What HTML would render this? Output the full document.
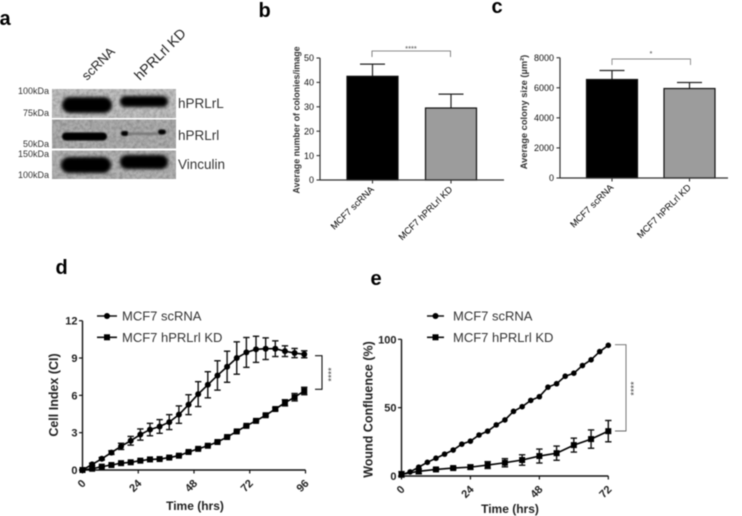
<!DOCTYPE html>
<html lang="en">
<head>
<meta charset="utf-8">
<title>hPRLrl knockdown figure</title>
<style>
html,body{margin:0;padding:0;background:#fff;}
body{width:742px;height:516px;overflow:hidden;}
svg{display:block;font-family:"Liberation Sans",sans-serif;filter:blur(0.45px);}
</style>
</head>
<body>
<svg id="figure" xmlns="http://www.w3.org/2000/svg" width="742" height="516" viewBox="0 0 742 516">
  <defs>
    <filter id="soft" x="-40%" y="-150%" width="180%" height="400%"><feGaussianBlur stdDeviation="1.5"/></filter>
    <filter id="softer" x="-40%" y="-150%" width="180%" height="400%"><feGaussianBlur stdDeviation="0.9"/></filter>
    <filter id="grain" x="0" y="0" width="100%" height="100%">
      <feTurbulence type="fractalNoise" baseFrequency="0.3" numOctaves="2" seed="4"/>
      <feColorMatrix type="matrix" values="0 0 0 0 0  0 0 0 0 0  0 0 0 0 0  0.4 0 0 0 -0.14"/>
    </filter>
  </defs>
  <rect width="742" height="516" fill="#fff"/>

  <g font-family="'Liberation Sans',sans-serif" font-weight="700" font-size="20" fill="#000">
    <text x="-0.500" y="25">a</text>
    <text x="258.500" y="17">b</text>
    <text x="491.500" y="13">c</text>
    <text x="55.500" y="274">d</text>
    <text x="370.500" y="285">e</text>
  </g>

  <g>
    <rect x="52" y="89" width="124" height="29" fill="#c0c0c0"/>
    <rect x="52" y="119.500" width="124" height="29" fill="#adadad"/>
    <rect x="52" y="150.500" width="124" height="28.500" fill="#b2b2b2"/>
    <rect x="52" y="89" width="124" height="29" filter="url(#grain)"/>
    <rect x="52" y="119.500" width="124" height="29" filter="url(#grain)"/>
    <rect x="52" y="150.500" width="124" height="28.500" filter="url(#grain)"/>
    <rect x="62" y="97" width="50" height="16" rx="8" fill="#040404" filter="url(#soft)"/>
    <rect x="120" y="96" width="48" height="11" rx="5.500" fill="#060606" filter="url(#soft)"/>
    <rect x="62" y="132.500" width="45" height="8" rx="4" fill="#050505" filter="url(#softer)"/>
    <rect x="121" y="131" width="7.500" height="5" rx="2.500" fill="#050505" filter="url(#softer)"/>
    <rect x="128" y="132.500" width="30" height="2.500" fill="#777" filter="url(#softer)"/>
    <rect x="158" y="129.500" width="8" height="5" rx="2.500" fill="#050505" filter="url(#softer)"/>
    <rect x="61" y="157" width="50" height="16" rx="8" fill="#040404" filter="url(#soft)"/>
    <rect x="120" y="155" width="48" height="14" rx="7" fill="#060606" filter="url(#soft)"/>
    <g font-size="9" fill="#333" text-anchor="end">
      <text x="49" y="94">100kDa</text>
      <text x="49" y="116">75kDa</text>
      <text x="49" y="147">50kDa</text>
      <text x="49" y="157">150kDa</text>
      <text x="49" y="178">100kDa</text>
    </g>
    <g font-size="13.500" fill="#333">
      <text x="178" y="108">hPRLrL</text>
      <text x="178" y="140">hPRLrl</text>
      <text x="178" y="169">Vinculin</text>
    </g>
    <text transform="translate(87 81) rotate(-45)" font-size="13" fill="#222">scRNA</text>
    <text transform="translate(140 81) rotate(-45)" font-size="14" fill="#222">hPRLrl KD</text>
  </g>

  <g id="chart-b">
    <text transform="translate(299.500 120) rotate(-90)" text-anchor="middle" font-size="8.900" font-weight="700" fill="#333">Average number of colonies/image</text>
    <text x="411" y="51" text-anchor="middle" font-size="7.500" fill="#444">****</text>
    <path d="M372 57V51H450.500V57" fill="none" stroke="#666" stroke-width="0.800"/>
  </g>

  <g id="chart-c">
    <text transform="translate(527 112) rotate(-90)" text-anchor="middle" font-size="9.300" font-weight="700" fill="#333">Average colony size (µm²)</text>
    <text x="651" y="56" text-anchor="middle" font-size="7.500" fill="#444">*</text>
    <path d="M612 65V59H690.500V65" fill="none" stroke="#888" stroke-width="0.900"/>
  </g>

  <g id="chart-d">
    <text transform="translate(58 395) rotate(-90)" text-anchor="middle" font-size="12.500" font-weight="700" fill="#222">Cell Index (CI)</text>
    <text x="195" y="510" text-anchor="middle" font-size="12" font-weight="700" fill="#222">Time (hrs)</text>
    <path d="M315 355.700H322V389.300H315" fill="none" stroke="#111" stroke-width="1.100"/>
    <text transform="translate(334.500 374.500) rotate(-90)" text-anchor="middle" font-size="9" fill="#444">****</text>
    <line x1="97" x2="117" y1="316" y2="316" stroke="#111" stroke-width="1.600"/>
    <circle cx="107" cy="316" r="3" fill="#000"/>
    <text x="122" y="320.500" font-size="13" fill="#333">MCF7 scRNA</text>
    <line x1="97" x2="117" y1="337.300" y2="337.300" stroke="#111" stroke-width="1.600"/>
    <rect x="104" y="334.300" width="6" height="6" fill="#000"/>
    <text x="122" y="342" font-size="13" fill="#333">MCF7 hPRLrl KD</text>
  </g>

  <g id="chart-e">
    <text transform="translate(372.500 409.500) rotate(-90)" text-anchor="middle" font-size="12.500" font-weight="700" fill="#222">Wound Confluence (%)</text>
    <text x="510" y="513" text-anchor="middle" font-size="12" font-weight="700" fill="#222">Time (hrs)</text>
    <path d="M615 344.700H626V431H615" fill="none" stroke="#666" stroke-width="0.900"/>
    <text transform="translate(637 388.500) rotate(-90)" text-anchor="middle" font-size="9" fill="#444">****</text>
    <line x1="427" x2="444" y1="316" y2="316" stroke="#111" stroke-width="1.600"/>
    <circle cx="435.500" cy="316" r="3" fill="#000"/>
    <text x="453" y="320.500" font-size="13" fill="#333">MCF7 scRNA</text>
    <line x1="427" x2="444" y1="337.300" y2="337.300" stroke="#111" stroke-width="1.600"/>
    <rect x="432.500" y="334.300" width="6" height="6" fill="#000"/>
    <text x="453" y="342" font-size="13" fill="#333">MCF7 hPRLrl KD</text>
  </g>
</svg>

<script>
const barCategories = ['MCF7 scRNA', 'MCF7 hPRLrl KD'];
const barColors = ['#000000', '#9c9c9c'];
const colonyMeans = [42.5, 29.5];
const colonyErrors = [5, 5.7];
const colonyTicks = [0, 10, 20, 30, 40, 50];
const sizeMeans = [6550, 5950];
const sizeErrors = [600, 400];
const sizeTicks = [0, 2000, 4000, 6000, 8000];

const growthTimes = [0, 4.15, 8.3, 12.45, 16.6, 20.75, 24.9, 29.05, 33.2, 37.35, 41.5, 45.65, 49.8, 53.95, 58.1, 62.25, 66.4, 70.55, 74.7, 78.85, 83, 87.15, 91.3, 95.45];
const growthScrna = [0, 0.45, 0.9, 1.4, 1.9, 2.35, 2.85, 3.25, 3.5, 3.85, 4.45, 5.25, 6.1, 6.85, 7.6, 8.3, 9, 9.45, 9.7, 9.75, 9.75, 9.55, 9.4, 9.3];
const growthScrnaErr = [0.05, 0.1, 0.1, 0.15, 0.25, 0.35, 0.45, 0.5, 0.55, 0.6, 0.7, 0.8, 1, 1.05, 1.18, 1.25, 1.3, 1.2, 1.05, 0.87, 0.63, 0.43, 0.37, 0.28];
const growthKd = [0, 0.1, 0.27, 0.4, 0.55, 0.62, 0.75, 0.85, 0.88, 1, 1.15, 1.45, 1.7, 1.95, 2.25, 2.65, 3.1, 3.55, 3.95, 4.4, 4.9, 5.4, 5.85, 6.35];
const growthKdErr = [0.02, 0.02, 0.03, 0.03, 0.03, 0.05, 0.05, 0.05, 0.05, 0.05, 0.05, 0.05, 0.05, 0.05, 0.05, 0.05, 0.05, 0.05, 0.05, 0.08, 0.1, 0.25, 0.3, 0.3];
const growthXTicks = [0, 24, 48, 72, 96];
const growthYTicks = [0, 3, 6, 9, 12];

const woundTimesScrna = [0, 3, 6, 9, 12, 15, 18, 21, 24, 27, 30, 33, 36, 39, 42, 45, 48, 51, 54, 57, 60, 63, 66, 69, 72];
const woundScrna = [1, 3, 6.5, 10, 13, 16, 19, 23.3, 25.5, 30, 32.8, 37.4, 41, 47.3, 50.7, 55.3, 58, 65, 67.5, 73, 75.2, 80.8, 85, 91, 95.6];
const woundTimesKd = [0, 6, 12, 18, 24, 30, 36, 42, 48, 54, 60, 66, 72];
const woundKd = [1.2, 3.4, 4.8, 5.8, 6.5, 8, 9.7, 11.7, 14.6, 16.7, 22.6, 27, 32.8];
const woundKdErr = [2, 1.8, 1, 1, 1.5, 2.5, 3, 3.8, 5.1, 5.2, 5.1, 6.7, 7.8];
const woundXTicks = [0, 24, 48, 72];
const woundYTicks = [0, 50, 100];

const SVG_NS = 'http://www.w3.org/2000/svg';

function mark(parent, tag, attrs, name) {
  const el = document.createElementNS(SVG_NS, tag);
  Object.keys(attrs).forEach(function (k) { el.setAttribute(k, attrs[k]); });
  
  
  parent.appendChild(el);
  return el;
}
function label(parent, attrs, text, name) {
  const el = mark(parent, 'text', attrs, name);
  el.textContent = text;
  return el;
}
function linear(d0, d1, r0, r1) {
  return function (v) { return r0 + (v - d0) / (d1 - d0) * (r1 - r0); };
}
function line(parent, x1, y1, x2, y2, stroke, width, name) {
  return mark(parent, 'line', { x1: x1, y1: y1, x2: x2, y2: y2, stroke: stroke, 'stroke-width': width }, name);
}

function drawBarChart(id, prefix, opts) {
  const g = document.getElementById(id);
  const y = linear(0, opts.yMax, opts.y0, opts.yTop);
  opts.means.forEach(function (v, i) {
    const cx = opts.centers[i];
    const half = 25.5;
    const errTop = y(v + opts.errors[i]);
    line(g, cx, y(v), cx, errTop, '#222', 1.2, prefix + '-error-stem-' + i);
    line(g, cx - 12.5, errTop, cx + 12.5, errTop, '#222', 1.2, prefix + '-error-cap-' + i);
    mark(g, 'rect', {
      x: cx - half, y: y(v), width: half * 2, height: opts.y0 - y(v),
      fill: barColors[i], stroke: '#111', 'stroke-width': 1.2
    }, prefix + '-bar-' + i);
    line(g, cx, opts.y0, cx, opts.y0 + 3.5, '#333', 1.1, prefix + '-x-tick-' + i);
    const lx = cx + 2;
    label(g, {
      transform: 'translate(' + lx + ' ' + (opts.y0 + 10) + ') rotate(-45)',
      'text-anchor': 'end', 'font-size': 9.3, fill: '#000'
    }, barCategories[i], prefix + '-x-label-' + i);
  });
  line(g, opts.x0, opts.yTop, opts.x0, opts.y0, '#333', 1.2, prefix + '-y-axis');
  line(g, opts.x0, opts.y0, opts.xEnd, opts.y0, '#333', 1.2, prefix + '-x-axis');
  opts.ticks.forEach(function (t, i) {
    line(g, opts.x0 - 3.5, y(t), opts.x0, y(t), '#333', 1.1, prefix + '-y-tick-' + i);
    label(g, {
      x: opts.x0 - 6, y: y(t) + 3.2, 'text-anchor': 'end', 'font-size': 9, fill: '#111'
    }, String(t), prefix + '-y-label-' + i);
  });
}

function drawSeries(g, name, xs, vals, errs, x, y, kind, size) {
  if (errs) {
    vals.forEach(function (v, i) {
      const px = x(xs[i]);
      line(g, px, y(v - errs[i]), px, y(v + errs[i]), '#111', 1.4, name + '-error-stem-' + i);
      line(g, px - 3.2, y(v + errs[i]), px + 3.2, y(v + errs[i]), '#111', 1.4, name + '-error-top-' + i);
      line(g, px - 3.2, y(v - errs[i]), px + 3.2, y(v - errs[i]), '#111', 1.4, name + '-error-bottom-' + i);
    });
  }
  const pts = vals.map(function (v, i) { return x(xs[i]) + ',' + y(v); }).join(' ');
  mark(g, 'polyline', { points: pts, fill: 'none', stroke: '#000', 'stroke-width': 1.6 }, name + '-line');
  vals.forEach(function (v, i) {
    const px = x(xs[i]);
    const py = y(v);
    if (kind === 'circle') {
      mark(g, 'circle', { cx: px, cy: py, r: size, fill: '#000' }, name + '-point-' + i);
    } else {
      mark(g, 'rect', { x: px - size, y: py - size, width: size * 2, height: size * 2, fill: '#000' }, name + '-point-' + i);
    }
  });
}

function drawAxes(id, prefix, x, y, xTicks, yTicks, xMin, xMax, yMin, yMax) {
  const g = document.getElementById(id);
  line(g, x(xMin), y(yMin) + 0.5, x(xMin), y(yMax), '#111', 1.4, prefix + '-y-axis');
  line(g, x(xMin), y(yMin), x(xMax), y(yMin), '#111', 1.4, prefix + '-x-axis');
  xTicks.forEach(function (t, i) {
    line(g, x(t), y(yMin), x(t), y(yMin) + 3.5, '#111', 1.2, prefix + '-x-tick-' + i);
    label(g, {
      transform: 'translate(' + (x(t) + 4) + ' ' + (y(yMin) + 14) + ') rotate(-45)',
      'text-anchor': 'end', 'font-size': 11, 'font-weight': 700, fill: '#222'
    }, String(t), prefix + '-x-label-' + i);
  });
  yTicks.forEach(function (t, i) {
    line(g, x(xMin) - 3.5, y(t), x(xMin), y(t), '#111', 1.2, prefix + '-y-tick-' + i);
    label(g, {
      x: x(xMin) - 5, y: y(t) + 4, 'text-anchor': 'end', 'font-size': 11, 'font-weight': 700, fill: '#222'
    }, String(t), prefix + '-y-label-' + i);
  });
}

drawBarChart('chart-b', 'colonies', {
  means: colonyMeans, errors: colonyErrors, ticks: colonyTicks, yMax: 50,
  x0: 320, xEnd: 504, y0: 180, yTop: 58, centers: [372.5, 451]
});
drawBarChart('chart-c', 'size', {
  means: sizeMeans, errors: sizeErrors, ticks: sizeTicks, yMax: 8000,
  x0: 560, xEnd: 728, y0: 178, yTop: 57.7, centers: [612, 689.5]
});

const xD = linear(0, 96, 82.5, 305.5);
const yD = linear(0, 12, 470, 320.7);
const chartD = document.getElementById('chart-d');
drawAxes('chart-d', 'growth', xD, yD, growthXTicks, growthYTicks, 0, 96, 0, 12);
drawSeries(chartD, 'growth-scrna', growthTimes, growthScrna, growthScrnaErr, xD, yD, 'circle', 3);
drawSeries(chartD, 'growth-kd', growthTimes, growthKd, growthKdErr, xD, yD, 'square', 3);

const xE = linear(0, 72, 401.5, 608.3);
const yE = linear(0, 100, 476, 339.3);
const chartE = document.getElementById('chart-e');
drawAxes('chart-e', 'wound', xE, yE, woundXTicks, woundYTicks, 0, 72, 0, 100);
drawSeries(chartE, 'wound-scrna', woundTimesScrna, woundScrna, null, xE, yE, 'circle', 2.8);
drawSeries(chartE, 'wound-kd', woundTimesKd, woundKd, woundKdErr, xE, yE, 'square', 3);
</script>
</body>
</html>
